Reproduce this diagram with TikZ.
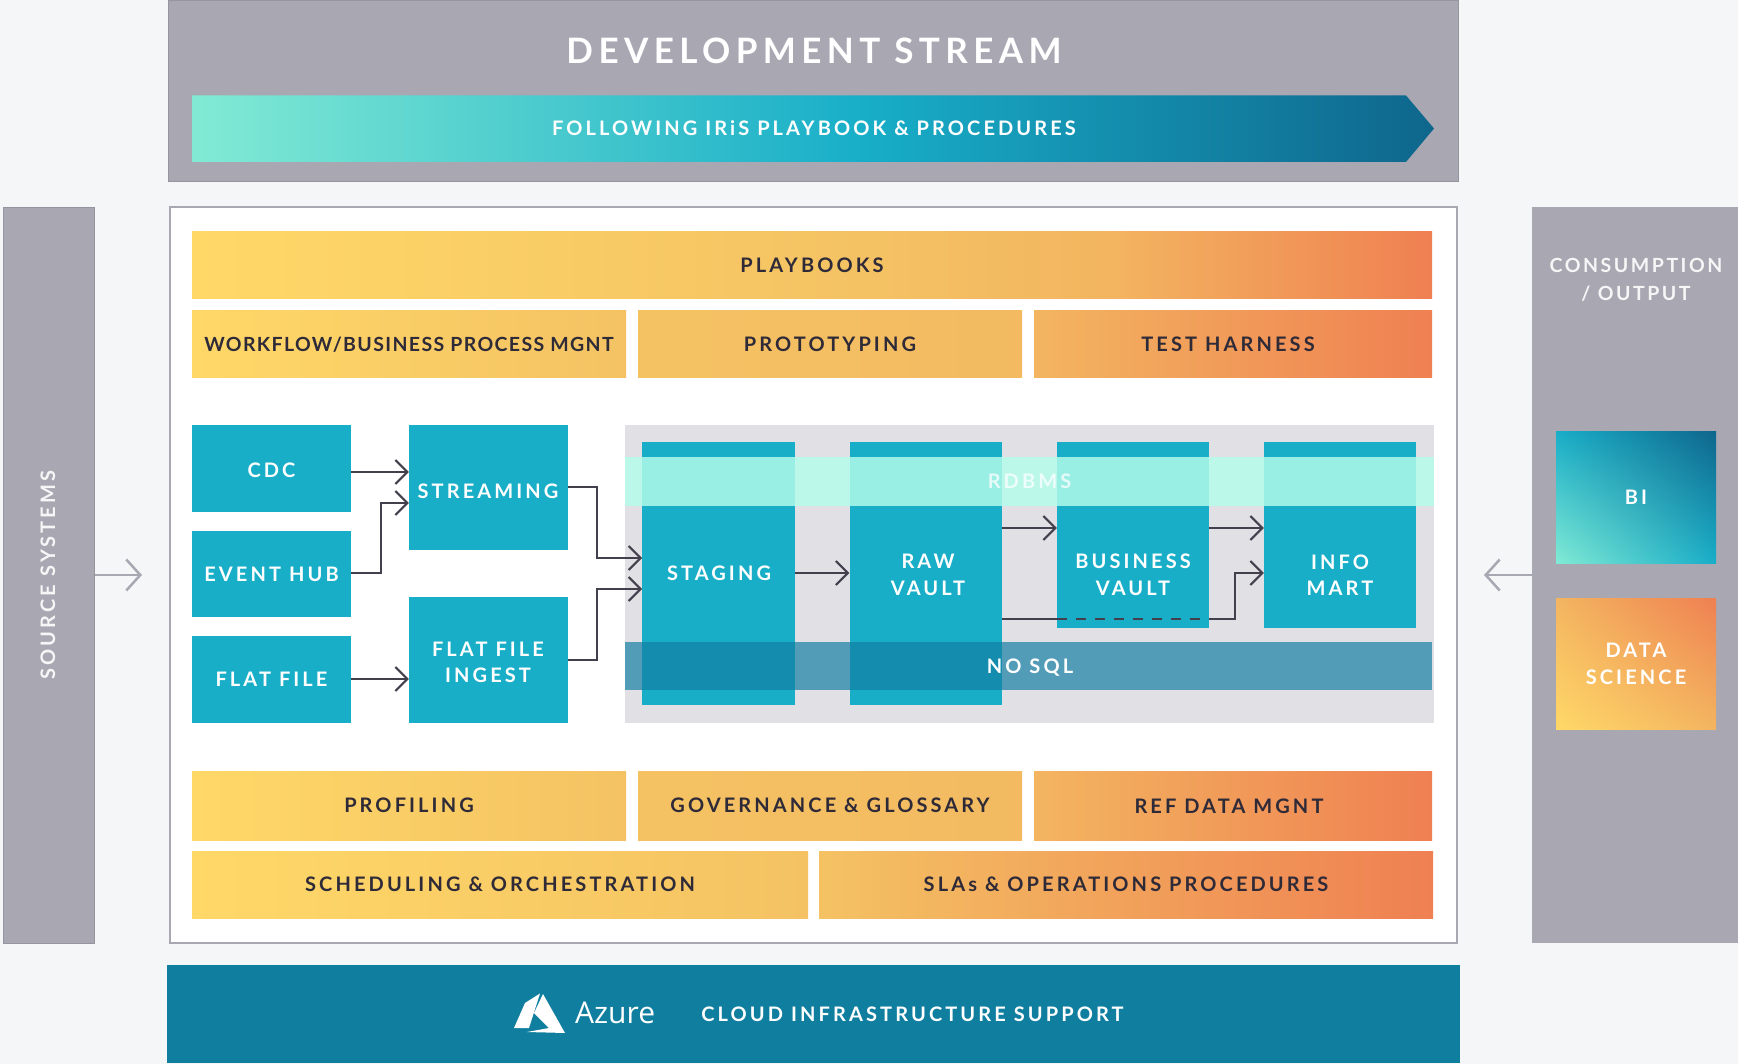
\documentclass[tikz,border=0pt]{standalone}
\usepackage{fontspec}
\setmainfont{Lato}[LetterSpace=15.5]
\newfontfamily\azfont{Open Sans}
\newfontfamily\tightfont{Lato}[LetterSpace=7]
\newfontfamily\midfont{Lato}[LetterSpace=13]
\usetikzlibrary{arrows.meta,calc,shadings}
\definecolor{bgc}{HTML}{F4F6F8}
\definecolor{panel}{HTML}{A9A7B2}
\definecolor{panelb}{HTML}{96949F}
\definecolor{tealb}{HTML}{18AEC8}
\definecolor{azbar}{HTML}{107E9F}
\definecolor{inkc}{HTML}{2E2A38}
\definecolor{zone}{HTML}{E0E0E5}
\definecolor{bandm}{HTML}{B4FDEA}
\definecolor{bandn}{HTML}{117DA2}
\definecolor{wa}{HTML}{FFD868}
\definecolor{wb}{HTML}{F4C263}
\definecolor{wc}{HTML}{F3B560}
\definecolor{wd}{HTML}{EF8052}
\pgfdeclarehorizontalshading{warmbar}{100bp}{color(0bp)=(wa); color(25bp)=(wa); color(52bp)=(wb); color(62bp)=(wc); color(75bp)=(wd); color(100bp)=(wd)}
\definecolor{ma}{HTML}{82EAD4}
\definecolor{mb}{HTML}{18AEC8}
\definecolor{mc}{HTML}{0F668C}
\pgfdeclarehorizontalshading{tealbar}{100bp}{color(0bp)=(ma); color(25bp)=(ma); color(52bp)=(mb); color(75bp)=(mc); color(100bp)=(mc)}
\newcommand\bx[7]{\node[#6,minimum width={(#4-#2)*1pt},minimum height={(#5-#3)*1pt}] (#1) at ({(#2+#4)/2},{(#3+#5)/2}) {#7};}
\tikzset{
 x=1pt,y=-1pt,
 base/.style={rectangle,inner sep=0pt,align=center},
 lbl/.style={font=\bfseries\fontsize{20}{26.5}\selectfont},
 warm/.style={base,lbl,text=inkc},
 tealbox/.style={base,lbl,fill=tealb,text=white},
 wtext/.style={base,lbl,text=white},
 graypanel/.style={base,fill=panel,draw=panelb,line width=1pt,text=white},
 link/.style={draw=inkc!90!white,line width=2pt,-{Straight Barb[length=12pt,width=24pt,line width=2pt]}},
 plain/.style={draw=inkc!90!white,line width=2pt},
 side/.style={draw=panel,line width=2.5pt,-{Straight Barb[length=14pt,width=31pt,line width=2.5pt]}},
}
\begin{document}
\begin{tikzpicture}
\useasboundingbox[fill=bgc] (0,0) rectangle (1738,1064);
% top panel
\bx{dev}{168.5}{1}{1458.5}{182}{graypanel}{}
\node[base,text=white,font=\bfseries\fontsize{35}{40}\selectfont] (devt) at (814,51) {DEVELOPMENT STREAM};
\shade[shading=tealbar] (192,95.5) -- (1406,95.5) -- (1434,128.5) -- (1406,162) -- (192,162) -- cycle;
\node[wtext] (follow) at (814,128) {FOLLOWING IRiS PLAYBOOK \& PROCEDURES};
% side panels
\bx{src}{3}{207.5}{94}{943}{graypanel}{}
\node[wtext,text=white!90!panel,rotate=90] (srct) at (48,575) {SOURCE SYSTEMS};
\bx{con}{1532}{207.5}{1740}{943}{base,fill=panel}{}
\node[base,text=white!90!panel,font=\midfont\bfseries\fontsize{19.5}{28}\selectfont] (cont) at (1636,279.5) {CONSUMPTION\\/ OUTPUT};
\bx{bi}{1556}{432}{1716}{563.5}{base,lbl,text=white,lower left=ma,upper right=mc,lower right=mb,upper left=mb}{BI}
\bx{ds}{1556}{598.5}{1716}{729.5}{base,lbl,text=white,lower left=wa,upper right=wd,lower right=wc,upper left=wc}{DATA\\SCIENCE}
% main panel
\bx{main}{170}{207.5}{1457}{943}{base,fill=white,draw=panel,line width=2pt}{}
\coordinate (srcTip) at (142,575);
\coordinate (conTip) at (1484,575);
\draw[side] (src.east |- srcTip) -- (srcTip);
\draw[side] (con.west |- conTip) -- (conTip);
\bx{play}{192}{231.5}{1432}{299}{warm,shading=warmbar}{PLAYBOOKS}
\bx{wf}{192}{310.5}{626}{378}{warm,left color=wa,right color=wb,font=\tightfont\bfseries\fontsize{19.5}{26}\selectfont}{WORKFLOW/BUSINESS PROCESS MGNT}
\bx{proto}{638}{310.5}{1022}{378}{warm,left color=wb,right color=wc!60!wb}{PROTOTYPING}
\bx{test}{1034}{310.5}{1432}{378}{warm,left color=wc,right color=wd}{}
\node[base,lbl,text=inkc] (testt) at (1228,344.5) {TEST HARNESS};
\bx{prof}{192}{771}{626}{840}{warm,left color=wa,right color=wb}{PROFILING}
\bx{gov}{638}{771}{1022}{840}{warm,left color=wb,right color=wc!60!wb}{GOVERNANCE \& GLOSSARY}
\bx{ref}{1034}{771}{1432}{840}{warm,left color=wc,right color=wd}{}
\node[base,lbl,text=inkc] (reft) at (1229,806) {REF DATA MGNT};
\bx{sched}{192}{851}{808}{918.5}{warm,left color=wa,right color=wb}{SCHEDULING \& ORCHESTRATION}
\bx{sla}{819}{851}{1433}{918.5}{warm,left color=wb,right color=wd}{SLAs \& OPERATIONS PROCEDURES}
% sources
\bx{cdc}{192}{425}{351}{512}{tealbox}{}
\node[wtext] (cdct) at (271.5,470) {CDC};
\bx{hub}{192}{531}{351}{617}{tealbox}{EVENT HUB}
\bx{ff}{192}{636}{351}{723}{tealbox}{FLAT FILE}
\bx{stream}{409}{425}{568}{550}{tealbox}{}
\node[wtext] (streamt) at (488,491.5) {STREAMING};
\bx{ingest}{409}{597}{568}{723}{tealbox}{}
\node[wtext] (ingestt) at (488,662.5) {FLAT FILE\\INGEST};
% store zone
\bx{zonebg}{625}{425}{1434}{723}{base,fill=zone}{}
\bx{stag}{642}{442.5}{795}{705}{tealbox}{}
\bx{raw}{849.5}{442.5}{1002}{705}{tealbox}{}
\bx{biz}{1057}{442.5}{1209}{628}{tealbox}{}
\bx{mart}{1264}{442.5}{1416}{628}{tealbox}{}
% connectors
\coordinate (bendA) at (381,503);
\coordinate (bendB) at (597,487);
\coordinate (bendC) at (597,660);
\coordinate (inA) at (642,558);
\coordinate (inB) at (642,589);
\coordinate (fromRawA) at (1002,528);
\coordinate (fromRawB) at (1002,619);
\coordinate (fromBiz) at (1209,528);
\coordinate (bendD) at (1235,573);
\draw[link] (cdc.east |- 0,472) -- (stream.west |- 0,472);
\draw[link] (hub.east |- 0,573) -| (bendA) -- (stream.west |- bendA);
\draw[link] (ff.east |- 0,679) -- (ingest.west |- 0,679);
\draw[link] (stream.east |- bendB) -- (bendB) |- (inA);
\draw[link] (ingest.east |- bendC) -- (bendC) |- (inB);
\draw[link] (stag.east |- 0,573) -- (raw.west |- 0,573);
\draw[link] (fromRawA) -- (biz.west |- fromRawA);
\draw[link] (fromBiz) -- (mart.west |- fromBiz);
\draw[plain] (fromRawB) -- (biz.west |- fromRawB);
\draw[plain,line width=2.5pt,dash pattern=on 10pt off 9pt] (biz.west |- fromRawB) -- (biz.east |- fromRawB);
\draw[link] (biz.east |- fromRawB) -| (bendD) -- (mart.west |- bendD);
% bands
\bx{rdbms}{625}{457}{1434}{506}{base,lbl,fill=bandm,fill opacity=.83,text opacity=.75,text=white}{RDBMS}
\bx{nosql}{625}{642}{1432}{690}{base,fill=bandn,fill opacity=.68}{}
\node[wtext,text depth=0pt] (nosqlt) at (1030,666) {NO SQL};
\node[wtext] (stagt) at (719,573) {STAGING};
\node[wtext] (rawt) at (928,575) {RAW\\VAULT};
\node[wtext] (bizt) at (1133,575) {BUSINESS\\VAULT};
\node[wtext] (martt) at (1340,575) {INFO\\MART};
% azure
\bx{azure}{167}{965}{1460}{1063}{base,fill=azbar}{}
\fill[white] (540,993.5) -- (525,1003) -- (514,1028) -- (529,1028) -- cycle;
\fill[white] (543,994) -- (565,1033) -- (527,1032) -- (549,1028) -- (534,1013) -- cycle;
\node[base,text=white,font=\azfont\fontsize{30}{34}\selectfont,anchor=west] (azt) at (575,1013) {Azure};
\node[wtext] (cloud) at (912.5,1014) {CLOUD INFRASTRUCTURE SUPPORT};
\end{tikzpicture}
\end{document}
